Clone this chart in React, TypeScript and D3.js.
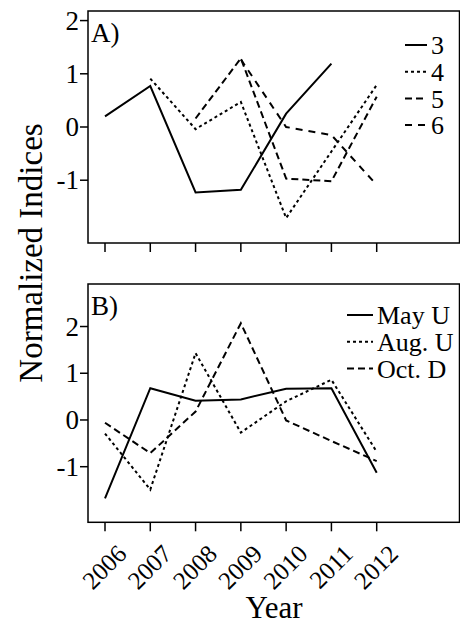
import React from 'react';
import * as d3 from 'd3';

const years = [2006, 2007, 2008, 2009, 2010, 2011, 2012];
const yTicks = [-1, 0, 1, 2];

// panel A, age classes
const ageLabels = ['3', '4', '5', '6'];
const age3 = [0.2, 0.77, -1.23, -1.18, 0.25, 1.19, null];
const age4 = [null, 0.91, -0.04, 0.47, -1.71, -0.46, 0.79];
const age5 = [null, null, 0.16, 1.29, -0.97, -1.02, 0.57];
const age6 = [null, null, null, 1.27, 0.0, -0.15, -1.09];

// panel B, surveys
const surveyLabels = ['May U', 'Aug. U', 'Oct. D'];
const mayU = [-1.68, 0.68, 0.41, 0.44, 0.67, 0.68, -1.13];
const augU = [-0.29, -1.49, 1.43, -0.27, 0.4, 0.86, -0.68];
const octD = [-0.06, -0.71, 0.18, 2.07, -0.01, -0.45, -0.88];

const FONT = '"Liberation Serif", "Times New Roman", serif';
const dashes = [null, '3,3', '7,4', '7,6'];

const left = 88;
const right = 459.5;

const x = d3.scaleLinear().domain([2006, 2012]).range([105, 376.7]);

type Row = (number | null)[];

const Panel = ({ top, bottom, domain, series, labels, legend, tag, showYears }: {
  top: number; bottom: number; domain: [number, number]; series: Row[]; labels: string[];
  legend: { x: number; y: number; step: number; lineW: number }; tag: string; showYears: boolean;
}) => {
  const y = d3.scaleLinear().domain(domain).range([bottom, top]);
  const line = d3.line<number | null>()
    .defined(d => d != null)
    .x((_, i) => x(years[i]))
    .y(d => y(d as number));

  return (
    <g>
      <rect x={left} y={top} width={right - left} height={bottom - top} fill="none" stroke="#000" strokeWidth={1.5} />
      {yTicks.map(t => (
        <g key={t}>
          <line x1={left - 8} x2={left} y1={y(t)} y2={y(t)} stroke="#000" strokeWidth={1.5} />
          <text x={left - 9} y={y(t)} dy="0.34em" textAnchor="end" fontSize={27}>{t}</text>
        </g>
      ))}
      {years.map(yr => (
        <g key={yr}>
          <line x1={x(yr)} x2={x(yr)} y1={bottom} y2={bottom + 9} stroke="#000" strokeWidth={1.5} />
          {showYears && (
            <text transform={`translate(${x(yr) + 23},${bottom + 33}) rotate(-45)`} textAnchor="end" fontSize={25}>{yr}</text>
          )}
        </g>
      ))}
      <text x={91} y={top + 31} fontSize={27}>{tag}</text>
      {series.map((s, i) => (
        <path key={i} d={line(s) || ''} fill="none" stroke="#000" strokeWidth={2}
          strokeDasharray={dashes[i] || undefined} />
      ))}
      {labels.map((lab, i) => {
        const ly = legend.y + i * legend.step;
        return (
          <g key={lab}>
            <line x1={legend.x} x2={legend.x + legend.lineW} y1={ly} y2={ly} stroke="#000" strokeWidth={2}
              strokeDasharray={dashes[i] || undefined} />
            <text x={legend.x + legend.lineW + 4} y={ly} dy="0.35em" fontSize={26}>{lab}</text>
          </g>
        );
      })}
    </g>
  );
};

export default function App() {
  return (
    <svg width={460} height={624} style={{ position: 'absolute', left: 0, top: 0, background: '#fff' }}
      fontFamily={FONT}>
      <Panel top={11} bottom={243} domain={[-2.18, 2.18]} series={[age3, age4, age5, age6]}
        labels={ageLabels} legend={{ x: 405, y: 45, step: 26.7, lineW: 22 }} tag="A)" showYears={false} />
      <Panel top={284} bottom={522.3} domain={[-2.19, 2.91]} series={[mayU, augU, octD]}
        labels={surveyLabels} legend={{ x: 347, y: 315, step: 26.7, lineW: 26 }} tag="B)" showYears={true} />
      <text transform="translate(42,253) rotate(-90)" textAnchor="middle" fontSize={33}>Normalized Indices</text>
      <text x={274} y={618} textAnchor="middle" fontSize={31}>Year</text>
    </svg>
  );
}
